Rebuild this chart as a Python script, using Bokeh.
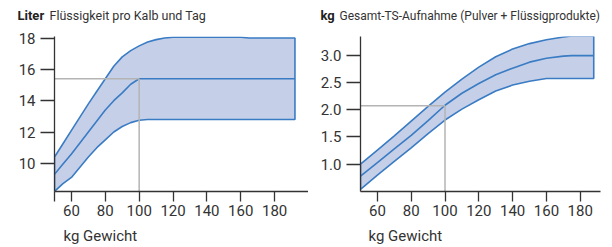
from bokeh.plotting import figure
from bokeh.layouts import row, column
from bokeh.models import Label, FixedTicker, Range1d
from bokeh.embed import file_html
from bokeh.resources import INLINE

# ---- Left chart: Liter Flüssigkeit pro Kalb und Tag ----
l_x = [50, 55, 60, 65, 70, 75, 80, 85, 90, 95, 100, 105, 110, 115, 120, 160, 165, 192]
l_upper = [10.4, 11.25, 12.1, 12.95, 13.8, 14.6, 15.4, 16.2, 16.8, 17.2, 17.5, 17.75, 17.9, 18.0, 18.05, 18.05, 18.0, 18.0]
l_mid = [9.3, 9.95, 10.6, 11.3, 12.0, 12.7, 13.4, 14.0, 14.5, 15.05, 15.4, 15.4, 15.4, 15.4, 15.4, 15.4, 15.4, 15.4]
l_lower = [8.2, 8.7, 9.1, 9.75, 10.4, 11.0, 11.5, 12.0, 12.35, 12.6, 12.75, 12.8, 12.8, 12.8, 12.8, 12.8, 12.8, 12.8]
l_ref_x, l_ref_y = 100, 15.4
l_yticks = [10, 12, 14, 16, 18]
l_xticks = [50, 60, 80, 100, 120, 140, 160, 180]

# ---- Right chart: kg Gesamt-TS-Aufnahme ----
r_x = [50, 60, 70, 80, 90, 100, 110, 120, 130, 140, 150, 160, 170, 175, 188]
r_upper = [1.0, 1.26, 1.52, 1.79, 2.06, 2.32, 2.56, 2.78, 2.97, 3.11, 3.21, 3.28, 3.33, 3.35, 3.35]
r_mid = [0.78, 1.03, 1.28, 1.53, 1.80, 2.08, 2.30, 2.48, 2.64, 2.76, 2.87, 2.94, 2.98, 2.99, 2.99]
r_lower = [0.54, 0.80, 1.05, 1.30, 1.56, 1.81, 2.01, 2.18, 2.34, 2.45, 2.52, 2.57, 2.57, 2.57, 2.57]
r_ref_x, r_ref_y = 100, 2.07
r_yticks = [1.0, 1.5, 2.0, 2.5, 3.0]
r_xticks = [60, 80, 100, 120, 140, 160, 180]

FONT = "Roboto"
FILL = "#c5cfe8"
LINE = "#3a7cc4"
GRAY = "#b4b4b4"
AXIS = "#333333"
W = 612


def make(xs, up, mid, lo, refx, refy, xr, yr, yticks, xticks, w, h, borders, fmt):
    p = figure(width=w, height=h, output_backend="svg", toolbar_location=None,
               x_range=Range1d(*xr), y_range=Range1d(*yr))
    p.min_border_left, p.min_border_right, p.min_border_top, p.min_border_bottom = borders
    p.outline_line_color = None
    p.background_fill_color = None
    p.border_fill_color = None
    p.grid.visible = False
    p.patch(xs + xs[::-1], up + lo[::-1], fill_color=FILL, line_color=LINE, line_width=1.6)
    p.line(xs, mid, line_color=LINE, line_width=1.6)
    p.line([xr[0], refx], [refy, refy], line_color=GRAY, line_width=1.5)
    p.line([refx, refx], [yr[0], refy], line_color=GRAY, line_width=1.5)
    for ax in (p.xaxis[0], p.yaxis[0]):
        ax.axis_line_color = AXIS
        ax.axis_line_width = 1.3
        ax.major_tick_line_color = AXIS
        ax.major_tick_line_width = 1.3
        ax.minor_tick_line_color = None
        ax.major_tick_in = 0
        ax.major_label_text_font = FONT
        ax.major_label_text_font_size = "15px"
        ax.major_label_text_color = "#333333"
    p.yaxis[0].ticker = FixedTicker(ticks=yticks)
    p.yaxis[0].major_tick_out = 14
    p.yaxis[0].major_label_standoff = 5
    p.yaxis[0].major_label_overrides = {t: fmt(t) for t in yticks}
    p.xaxis[0].ticker = FixedTicker(ticks=xticks)
    p.xaxis[0].major_tick_out = 10
    p.xaxis[0].major_label_standoff = 3
    p.xaxis[0].major_label_overrides = {t: ("" if t == 50 else str(t)) for t in xticks}
    return p


def strip(h):
    s = figure(width=W, height=h, output_backend="svg", toolbar_location=None,
               x_range=Range1d(0, W), y_range=Range1d(0, h),
               x_axis_type=None, y_axis_type=None)
    s.min_border_left = s.min_border_right = s.min_border_top = s.min_border_bottom = 0
    s.outline_line_color = None
    s.background_fill_color = None
    s.border_fill_color = None
    s.grid.visible = False
    return s


left = make(l_x, l_upper, l_mid, l_lower, l_ref_x, l_ref_y, (50, 200), (8.2, 18.1),
            l_yticks, l_xticks, 308, 200, (54, 0, 9, 33), lambda t: str(int(t)))
right = make(r_x, r_upper, r_mid, r_lower, r_ref_x, r_ref_y, (50, 192), (0.5, 3.34),
             r_yticks, r_xticks, 304, 200, (52, 12, 10, 35), lambda t: f"{t:.1f}")

# header with titles
header = strip(26)
for x, txt, bold, size in [(17, "Liter", True, "13px"), (49, "Flüssigkeit pro Kalb und Tag", False, "12.5px"),
                           (320, "kg", True, "13px"), (339, "Gesamt-TS-Aufnahme (Pulver + Flüssigprodukte)", False, "12px")]:
    header.add_layout(Label(x=x, y=11, text=txt, text_font=FONT, text_font_size=size,
                            text_font_style="bold" if bold else "normal",
                            text_color="#222222" if bold else "#333333", text_baseline="middle"))

# footer with x-axis labels
footer = strip(21)
for x in (63, 368):
    footer.add_layout(Label(x=x, y=12, text="kg Gewicht", text_font=FONT, text_font_size="15px",
                            text_color="#333333", text_baseline="middle"))

layout = column(header, row(left, right), footer)
open("out.html", "w").write(file_html(layout, INLINE))
